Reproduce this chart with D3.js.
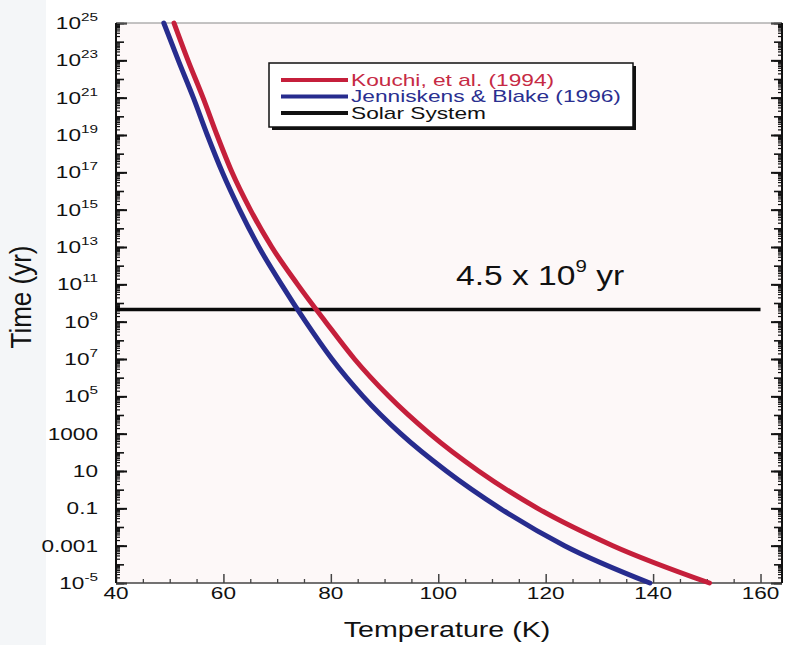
<!DOCTYPE html>
<html>
<head>
<meta charset="utf-8">
<script src="https://cdn.jsdelivr.net/npm/d3@7"></script>
<style>
  html, body { margin: 0; padding: 0; background: #ffffff; }
  svg { display: block; font-family: "Liberation Sans", Arial, sans-serif; }
</style>
</head>
<body>
<svg id="chart" width="786" height="645"></svg>
<script>
// ---------------- data ----------------
const seriesNames = ["Kouchi, et al. (1994)", "Jenniskens & Blake (1996)", "Solar System"];
const timeLevels = [1e25, 1e23, 1e21, 1e19, 1e17, 1e15, 1e13, 1e11, 1e9, 1e7, 1e5, 1e3, 10, 0.1, 1e-3, 1e-5];
const kouchiTemp = [50.8, 53.4, 56.2, 58.8, 61.6, 65.0, 69.0, 73.8, 79.0, 84.4, 90.8, 98.4, 107.5, 118.5, 132.5, 150.5];
const jenniskensTemp = [48.9, 51.6, 54.4, 57.0, 59.8, 63.0, 66.6, 70.8, 75.3, 80.2, 86.0, 93.0, 101.5, 111.5, 123.5, 139.4];
const solarSystemTime = 4.5e9;
const solarSystemTempRange = [40, 160];
const xTicks = [40, 60, 80, 100, 120, 140, 160];
const yTickExponents = [25, 23, 21, 19, 17, 15, 13, 11, 9, 7, 5, 3, 1, -1, -3, -5];
const yTickPlain = { "3": "1000", "1": "10", "-1": "0.1", "-3": "0.001" };
const xDomain = [40, 164];
const yDomain = [1e-5, 1e25];

// ---------------- layout ----------------
const svg = d3.select("#chart");
const L = 116, R = 782, T = 23, B = 583;
const red = "#c51f3b", blue = "#272c8e";

const x = d3.scaleLinear().domain(xDomain).range([L, R]);
const y = d3.scaleLog().domain(yDomain).range([B, T]);

// background
svg.append("rect").attr("x", 0).attr("y", 0).attr("width", 46).attr("height", 645).attr("fill", "#f4f6f8");
svg.append("rect").attr("x", L).attr("y", T).attr("width", R - L).attr("height", B - T).attr("fill", "#fdf8f8");

// ---------------- axes ----------------
const decades = d3.range(-5, 26);
const minorY = [];
decades.slice(0, -1).forEach(d => { for (let k = 2; k <= 9; k++) minorY.push(k * Math.pow(10, d)); });
const majorY = decades.map(d => Math.pow(10, d));
const labeledY = yTickExponents.map(d => Math.pow(10, d));

function yAxisGroup(gen, xpos, size, vals, width) {
  const g = svg.append("g").attr("transform", `translate(${xpos},0)`)
    .call(gen(y).tickValues(vals).tickSize(size).tickSizeOuter(0).tickFormat(""));
  g.selectAll(".domain").remove();
  g.selectAll("line").attr("stroke", "#111").attr("stroke-width", width);
  return g;
}
yAxisGroup(d3.axisLeft, L, -4, minorY, 1.2);
yAxisGroup(d3.axisLeft, L, -8, majorY, 1.6);
yAxisGroup(d3.axisLeft, L, -11, labeledY, 2);
yAxisGroup(d3.axisRight, R, -4, minorY, 1.2);
yAxisGroup(d3.axisRight, R, -8, majorY, 1.6);
yAxisGroup(d3.axisRight, R, -11, labeledY, 2);

// x axis (bottom)
const minorX = d3.range(45, 165, 5).filter(v => v % 20 !== 0);
const gxMinor = svg.append("g").attr("transform", `translate(0,${B})`)
  .call(d3.axisBottom(x).tickValues(minorX).tickSize(-4).tickSizeOuter(0).tickFormat(""));
gxMinor.selectAll(".domain").remove();
gxMinor.selectAll("line").attr("stroke", "#444").attr("stroke-width", 1.3);
const gxMajor = svg.append("g").attr("transform", `translate(0,${B})`)
  .call(d3.axisBottom(x).tickValues(xTicks).tickSize(-9).tickSizeOuter(0).tickFormat(""));
gxMajor.selectAll(".domain").remove();
gxMajor.selectAll("line").attr("stroke", "#444").attr("stroke-width", 1.5);

// frame lines
svg.append("line").attr("x1", L).attr("x2", R).attr("y1", B).attr("y2", B).attr("stroke", "#444").attr("stroke-width", 1.6);
svg.append("line").attr("x1", L).attr("x2", R).attr("y1", T).attr("y2", T).attr("stroke", "#8a8a8a").attr("stroke-width", 1.2);
svg.append("line").attr("x1", L).attr("x2", L).attr("y1", T).attr("y2", B).attr("stroke", "#111").attr("stroke-width", 2);
svg.append("line").attr("x1", R).attr("x2", R).attr("y1", T).attr("y2", B).attr("stroke", "#111").attr("stroke-width", 2);

// x tick labels
const SX = 1.33;
xTicks.forEach(v => {
  svg.append("text").attr("transform", `translate(${x(v)},599) scale(${SX},1)`)
    .attr("text-anchor", "middle").attr("font-size", 17).attr("fill", "#111").text(v);
});

// y tick labels
yTickExponents.forEach(d => {
  const t = svg.append("text").attr("transform", `translate(98,${y(Math.pow(10, d)) + 6}) scale(${SX},1)`)
    .attr("text-anchor", "end").attr("font-size", 17).attr("fill", "#111");
  if (yTickPlain[String(d)] !== undefined) {
    t.text(yTickPlain[String(d)]);
  } else {
    t.append("tspan").text("10");
    t.append("tspan").attr("font-size", 11.5).attr("dy", -8).text(String(d));
  }
});

// axis titles
svg.append("text").attr("transform", `translate(447,637) scale(1.3,1)`)
  .attr("text-anchor", "middle").attr("font-size", 22).attr("fill", "#111").text("Temperature (K)");
svg.append("text").attr("transform", `translate(31,297) rotate(-90) scale(1,1.15)`)
  .attr("text-anchor", "middle").attr("font-size", 26).attr("fill", "#111").text("Time (yr)");

// ---------------- lines ----------------
const line = d3.line().x(d => x(d[0])).y(d => y(d[1])).curve(d3.curveMonotoneX);
const kouchiData = kouchiTemp.map((t, i) => [t, timeLevels[i]]);
const jennData = jenniskensTemp.map((t, i) => [t, timeLevels[i]]);

svg.append("line")
  .attr("x1", x(solarSystemTempRange[0])).attr("x2", x(solarSystemTempRange[1]))
  .attr("y1", y(solarSystemTime)).attr("y2", y(solarSystemTime))
  .attr("stroke", "#0a0a0a").attr("stroke-width", 3.5);

svg.append("path").datum(jennData).attr("d", line).attr("fill", "none")
  .attr("stroke", blue).attr("stroke-width", 5).attr("stroke-linecap", "round");
svg.append("path").datum(kouchiData).attr("d", line).attr("fill", "none")
  .attr("stroke", red).attr("stroke-width", 5).attr("stroke-linecap", "round");

// annotation
const ann = svg.append("text").attr("transform", `translate(456,285) scale(1.2,1)`)
  .attr("font-size", 28).attr("fill", "#111");
ann.append("tspan").text("4.5 x 10");
ann.append("tspan").attr("font-size", 17).attr("dy", -13).text("9");
ann.append("tspan").attr("dy", 13).text(" yr");

// ---------------- legend ----------------
const lg = svg.append("g");
lg.append("rect").attr("x", 272).attr("y", 66).attr("width", 364).attr("height", 64).attr("fill", "#111");
lg.append("rect").attr("x", 269).attr("y", 63).attr("width", 364).attr("height", 64)
  .attr("fill", "#ffffff").attr("stroke", "#111").attr("stroke-width", 1.5);
const legendColors = [red, blue, "#111"];
const legendText = ["#c62a44", "#2a2f90", "#111"];
seriesNames.forEach((name, i) => {
  const ly = 80 + i * 16.5;
  lg.append("line").attr("x1", 281).attr("x2", 348).attr("y1", ly).attr("y2", ly)
    .attr("stroke", legendColors[i]).attr("stroke-width", 4);
  lg.append("text").attr("transform", `translate(351,${ly + 5.5}) scale(1.42,1)`)
    .attr("font-size", 16).attr("fill", legendText[i]).text(name);
});
</script>
</body>
</html>
